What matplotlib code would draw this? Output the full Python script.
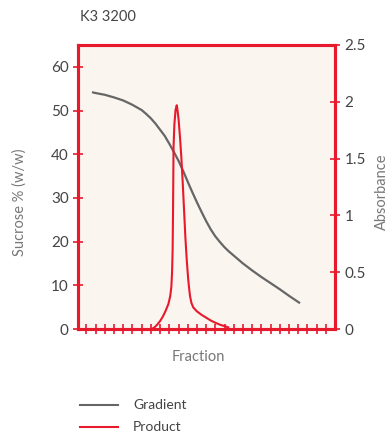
import matplotlib
matplotlib.use("Agg")
import matplotlib.pyplot as plt
from matplotlib.lines import Line2D

plt.rcParams["font.family"] = ["Lato", "DejaVu Sans"]

# ---- data ----
title = "K3 3200"
gradient_x = [0.6, 1.0, 2.0, 3.0, 4.0, 5.0, 6.0, 6.5, 7.0, 7.5, 8.0, 8.5, 9.0, 9.5, 10.0, 10.5,
              11.0, 11.5, 12.0, 12.5, 13.0, 13.5, 14.0, 14.5, 15.0, 15.5, 16.0, 17.0, 18.0,
              19.0, 20.0, 21.0, 22.0, 23.2]
gradient_y = [54.2, 54.0, 53.6, 53.0, 52.3, 51.3, 50.1, 49.2, 48.2, 47.0, 45.6, 44.2, 42.4, 40.5,
              38.5, 36.2, 33.7, 31.3, 29.0, 26.8, 24.7, 22.8, 21.2, 19.9, 18.7, 17.7, 16.8,
              15.0, 13.4, 11.9, 10.5, 9.1, 7.6, 5.9]
product_x = [7.09, 7.4, 7.7, 8.0, 8.3, 8.6, 8.9, 9.1, 9.22, 9.3, 9.36, 9.4, 9.43, 9.46, 9.55,
             9.68, 9.81, 9.9, 10.0, 10.15, 10.3, 10.45, 10.6, 10.75, 10.9, 11.05, 11.15, 11.25,
             11.4, 11.6, 12.0, 12.5, 13.0, 13.5, 14.0, 14.5, 15.0, 15.4]
product_y = [0.0, 0.015, 0.04, 0.07, 0.11, 0.16, 0.22, 0.29, 0.37, 0.5, 0.7, 1.0, 1.3, 1.6, 1.8,
             1.93, 1.97, 1.92, 1.85, 1.7, 1.52, 1.3, 1.05, 0.8, 0.6, 0.44, 0.36, 0.29, 0.23,
             0.19, 0.155, 0.125, 0.1, 0.075, 0.055, 0.038, 0.025, 0.015]
fraction_ticks = list(range(0, 27))
left_ticks = [0, 10, 20, 30, 40, 50, 60]
right_ticks = [0, 0.5, 1, 1.5, 2, 2.5]
right_labels = ["0", "0.5", "1", "1.5", "2", "2.5"]

RED = "#e8192c"
GRAY = "#666666"
TXT = "#444444"
LBL = "#777777"
BG = "#faf5ef"

fig = plt.figure(figsize=(3.89, 4.36), dpi=100)
W, H = 389, 436
ax = fig.add_axes([78 / W, (H - 329) / H, 257 / W, 284 / H])
ax.set_facecolor(BG)
ax2 = ax.twinx()

ax.plot(gradient_x, gradient_y, color=GRAY, lw=1.6, solid_capstyle="butt", zorder=3)
ax2.plot(product_x, product_y, color=RED, lw=1.5, zorder=3)

ax.set_xlim(-0.92, 27.0)
ax.set_ylim(0, 65)
ax2.set_ylim(0, 2.5)

ax.set_xticks(fraction_ticks)
ax.set_xticklabels([])
ax.set_yticks(left_ticks)
ax.set_yticklabels([str(v) for v in left_ticks])
ax2.set_yticks(right_ticks)
ax2.set_yticklabels(right_labels)

for a in (ax, ax2):
    for s in a.spines.values():
        s.set_color(RED)
        s.set_linewidth(2.2)
ax.tick_params(axis="both", direction="inout", length=7.5, width=1.2, color=RED,
               labelsize=11, labelcolor=TXT, pad=3)
ax2.tick_params(axis="y", direction="inout", length=7.5, width=1.2, color=RED,
                labelsize=11, labelcolor=TXT, pad=3)

fig.text(20 / W, 1 - 202 / H, "Sucrose % (w/w)", color=LBL, fontsize=10.5,
         rotation=90, ha="center", va="center")
fig.text(382 / W, 1 - 192 / H, "Absorbance", color=LBL, fontsize=10.5,
         rotation=90, ha="center", va="center")
fig.text(198 / W, 1 - 357 / H, "Fraction", color=LBL, fontsize=10.5, ha="center", va="center")
fig.text(80 / W, 1 - 17 / H, title, color=TXT, fontsize=10.5, ha="left", va="center")

# legend
for yy, col, lab in [(405, GRAY, "Gradient"), (427, RED, "Product")]:
    fig.add_artist(Line2D([80 / W, 118 / W], [1 - yy / H, 1 - yy / H], color=col, lw=1.5,
                          transform=fig.transFigure))
    fig.text(133 / W, 1 - yy / H, lab, color=TXT, fontsize=10, ha="left", va="center")

fig.savefig("out.png", dpi=100)
